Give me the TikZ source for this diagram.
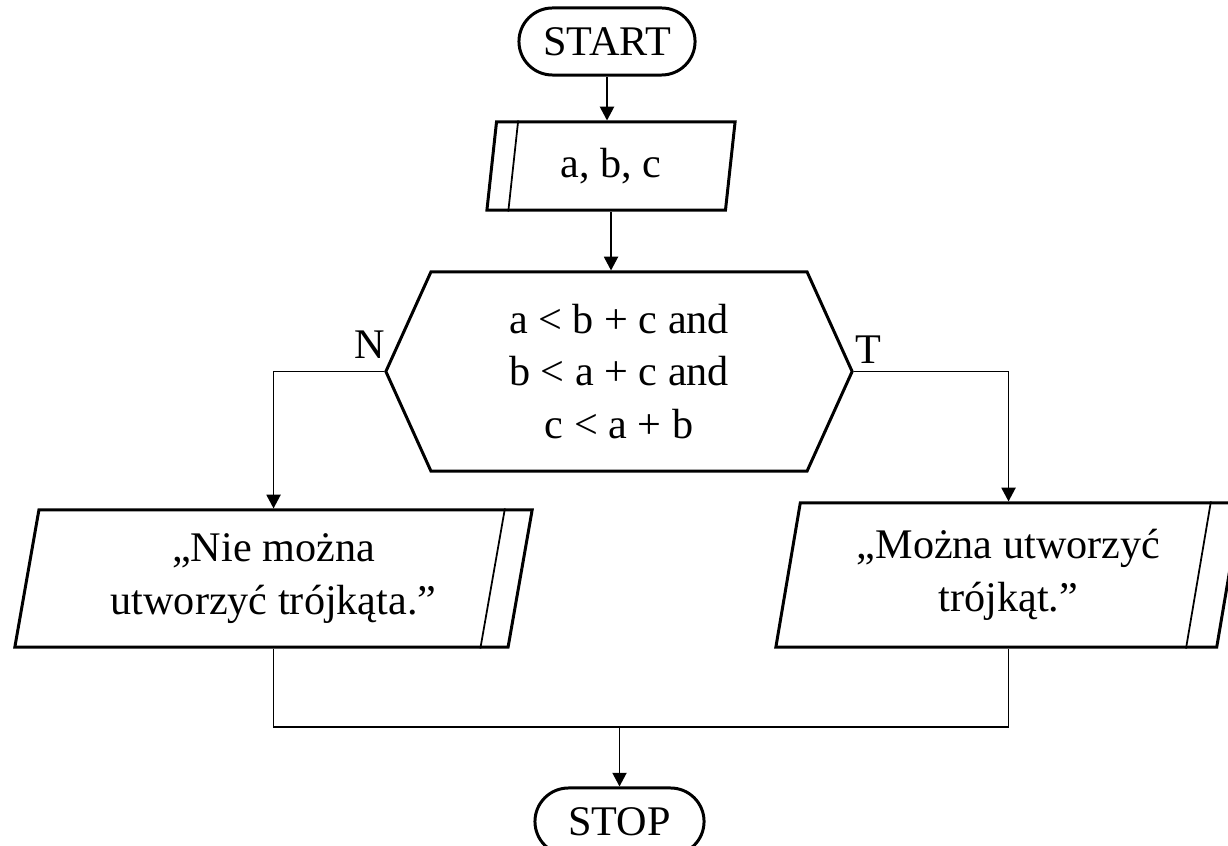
\documentclass[tikz,border=0pt]{standalone}
\usepackage{fontspec}
\setmainfont{Liberation Serif}
\usetikzlibrary{shapes.misc,shapes.geometric,shapes.symbols,arrows.meta}

\tikzset{
  term/.style={draw, rounded rectangle, line width=0.85pt, minimum height=0.67cm, inner sep=0pt},
  io/.style={draw, trapezium, trapezium left angle=75, trapezium right angle=105,
    trapezium stretches body=true, line width=0.85pt, inner sep=0pt, align=center},
  cond/.style={draw, signal, signal to=west and east, signal pointer angle=131.3,
    line width=0.85pt, minimum width=4.66cm, minimum height=1.99cm, inner sep=0pt, align=center},
  arr/.style={-{Triangle[length=3.9pt,width=4pt]}, line width=0.5pt},
  conn/.style={line width=0.5pt},
  bar/.style={line width=0.5pt},
}

\begin{document}
\begin{tikzpicture}[x=0.01cm, y=-0.01cm, font=\fontsize{12}{15}\selectfont]
\useasboundingbox (0,0) rectangle (1228,846);
% blocks
\node[term, minimum width=1.76cm] (start) at (607,41.5) {START};
\node[io, minimum width=2.48cm, minimum height=0.88cm] (in) at (611,166) {a, b, c};
\draw[bar] ([xshift=0.23cm]in.top left corner) -- ([xshift=0.23cm]in.bottom left corner);
\node[cond] (dec) at (619,371.5) {a < b + c and\\ b < a + c and\\ c < a + b};
\node (nl) at (370,345) {N};
\node (tl) at (868,350) {T};
\node[io, minimum width=5.17cm, minimum height=1.37cm] (no) at (273.5,578.5) {„Nie można\\ utworzyć trójkąta.”};
\draw[bar] ([xshift=-0.29cm]no.top right corner) -- ([xshift=-0.29cm]no.bottom right corner);
\node[io, minimum width=4.65cm, minimum height=1.44cm] (yes) at (1008.5,575) {„Można utworzyć\\ trójkąt.”};
\draw[bar] ([xshift=-0.32cm]yes.top right corner) -- ([xshift=-0.32cm]yes.bottom right corner);
\node[term, minimum width=1.69cm] (stop) at (619.5,821.5) {STOP};
\coordinate (merge) at (619.5,727);
% connectors
\draw[arr] (start.south) -- (start.south |- in.north);
\draw[arr] (in.south) -- (in.south |- dec.north);
\draw[arr] (dec.west) -| (no.north);
\draw[arr] (dec.east) -| (yes.north);
\draw[conn] (no.south) |- (merge) -| (yes.south);
\draw[arr] (merge) -- (stop.north);
\end{tikzpicture}
\end{document}
